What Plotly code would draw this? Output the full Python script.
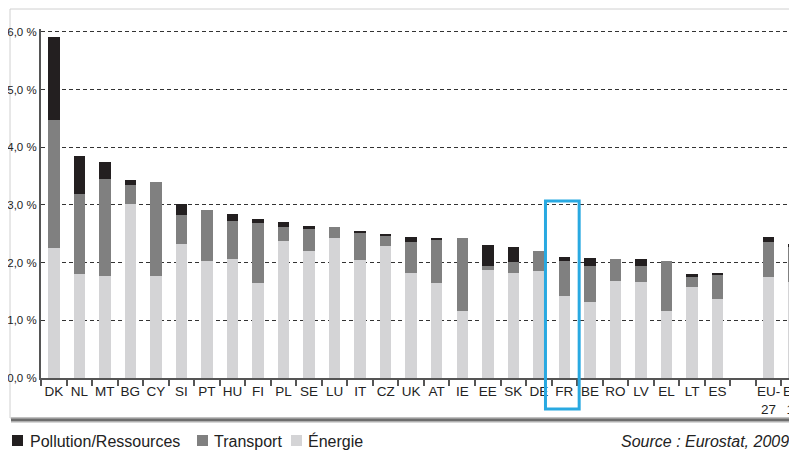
import plotly.graph_objects as go

# ---- data ----
countries = ["DK", "NL", "MT", "BG", "CY", "SI", "PT", "HU", "FI", "PL", "SE", "LU",
             "IT", "CZ", "UK", "AT", "IE", "EE", "SK", "DE", "FR", "BE", "RO", "LV",
             "EL", "LT", "ES", " ", "EU-27", "EA-16"]
tick_labels = ["DK", "NL", "MT", "BG", "CY", "SI", "PT", "HU", "FI", "PL", "SE", "LU",
               "IT", "CZ", "UK", "AT", "IE", "EE", "SK", "DE", "FR", "BE", "RO", "LV",
               "EL", "LT", "ES", "", "EU-<br>27", "EA-<br>16"]
energie = [2.25, 1.80, 1.76, 3.02, 1.76, 2.33, 2.03, 2.06, 1.65, 2.38, 2.20, 2.42,
           2.05, 2.29, 1.82, 1.64, 1.17, 1.88, 1.82, 1.86, 1.43, 1.32, 1.69, 1.67,
           1.17, 1.58, 1.37, None, 1.75, 1.67]
transport = [2.22, 1.39, 1.69, 0.33, 1.64, 0.50, 0.89, 0.66, 1.03, 0.24, 0.39, 0.20,
             0.48, 0.18, 0.53, 0.76, 1.25, 0.06, 0.19, 0.35, 0.60, 0.62, 0.37, 0.28,
             0.86, 0.17, 0.41, None, 0.60, 0.60]
pollution = [1.45, 0.66, 0.29, 0.08, 0.00, 0.18, 0.00, 0.13, 0.08, 0.08, 0.05, 0.00,
             0.02, 0.02, 0.09, 0.03, 0.00, 0.36, 0.26, 0.00, 0.07, 0.14, 0.00, 0.11,
             0.00, 0.05, 0.04, None, 0.10, 0.06]
y_ticks = [0, 1, 2, 3, 4, 5, 6]
y_tick_labels = ["0,0 %", "1,0 %", "2,0 %", "3,0 %", "4,0 %", "5,0 %", "6,0 %"]
series_names = ["Pollution/Ressources", "Transport", "Énergie"]
highlight = "FR"
source_text = "Source : Eurostat, 2009."

# ---- style ----
C_POLL = "#231f20"
C_TRAN = "#808080"
C_ENER = "#d4d4d6"
FONT = "Liberation Sans, Arial, sans-serif"

OFF = 8                      # default page body margin
W, H = 797 - OFF, 452 - OFF
# plot area, in page pixels
PL, PR, PT, PB = 41, 797, 29, 378
L, R_EDGE, T, B = PL - OFF, PR - OFF, PT - OFF, PB - OFF


def px_x(p):
    return (p - OFF - L) / (R_EDGE - L)


def px_y(p):
    return (B - (p - OFF)) / (B - T)


fig = go.Figure()
fig.add_bar(x=countries, y=energie, name=series_names[2], marker_color=C_ENER,
            marker_line_width=0)
fig.add_bar(x=countries, y=transport, name=series_names[1], marker_color=C_TRAN,
            marker_line_width=0)
fig.add_bar(x=countries, y=pollution, name=series_names[0], marker_color=C_POLL,
            marker_line_width=0)

fig.update_layout(
    width=W, height=H,
    margin=dict(l=L, r=W - R_EDGE, t=T, b=H - B, pad=0, autoexpand=False),
    barmode="stack", bargap=0.55,
    showlegend=False,
    plot_bgcolor="white", paper_bgcolor="white",
    font=dict(family=FONT, color="#222"),
)
fig.update_xaxes(
    type="category", categoryorder="array", categoryarray=countries,
    tickvals=countries, ticktext=tick_labels, tickangle=0, automargin=False,
    range=[-0.5, -0.5 + (PR - PL) / 25.53],
    showline=True, linecolor="#555", linewidth=2,
    ticks="outside", tickson="boundaries", ticklen=6, tickwidth=1.5, tickcolor="#555",
    tickfont=dict(size=13.5, color="#222", family=FONT),
    showgrid=False, zeroline=False,
)
fig.update_yaxes(
    range=[0, 6.05], tickvals=y_ticks, ticktext=y_tick_labels, automargin=False,
    showline=True, linecolor="#555", linewidth=2,
    ticks="", tickfont=dict(size=11.5, color="#222", family=FONT),
    showgrid=True, gridcolor="#333", gridwidth=1, griddash="4px,3px",
    zeroline=False,
)

shapes = []
# frame
shapes.append(dict(type="rect", xref="paper", yref="paper",
                   x0=px_x(10), x1=px_x(805), y0=px_y(418), y1=px_y(9),
                   line=dict(color="#d0d0d0", width=1), layer="below"))
# shadow at bottom of frame
for y0, y1, col in [(417.5, 419, "#9a9a9a"), (419, 421, "#6e6e6e"), (421, 422.5, "#b0b0b0")]:
    shapes.append(dict(type="rect", xref="paper", yref="paper",
                       x0=px_x(11), x1=px_x(805), y0=px_y(y1), y1=px_y(y0),
                       line=dict(width=0), fillcolor=col, layer="below"))
# highlight box around FR
hi = countries.index(highlight)
shapes.append(dict(type="rect", xref="x", yref="paper",
                   x0=hi - 0.74, x1=hi + 0.58, y0=px_y(409), y1=px_y(201),
                   line=dict(color="#29a9e1", width=3)))
# legend squares
legend_sq = [(12, C_POLL), (197, C_TRAN), (291, C_ENER)]
for x0, col in legend_sq:
    shapes.append(dict(type="rect", xref="paper", yref="paper",
                       x0=px_x(x0), x1=px_x(x0 + 11), y0=px_y(446), y1=px_y(435),
                       line=dict(width=0), fillcolor=col))
fig.update_layout(shapes=shapes)

annotations = []
legend_txt_x = [28, 212, 306]
for name, x0 in zip(series_names, legend_txt_x):
    annotations.append(dict(text=name, xref="paper", yref="paper",
                            x=px_x(x0), y=px_y(441), xanchor="left", yanchor="middle",
                            showarrow=False, font=dict(size=16, color="#222", family=FONT)))
annotations.append(dict(text="<i>" + source_text + "</i>", xref="paper", yref="paper",
                        x=px_x(619), y=px_y(441), xanchor="left", yanchor="middle",
                        showarrow=False, font=dict(size=16, color="#222", family=FONT)))
fig.update_layout(annotations=annotations)

fig.write_html("out.html")
